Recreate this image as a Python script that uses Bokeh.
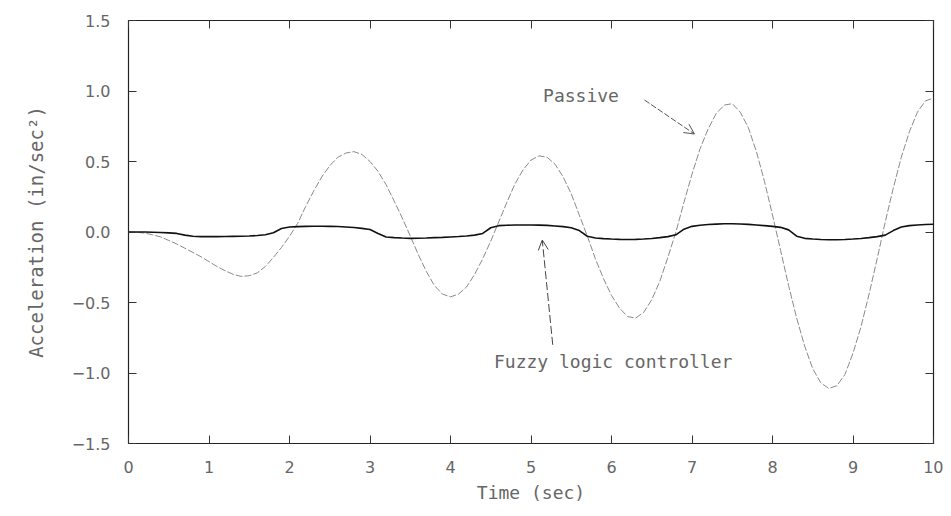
from bokeh.plotting import figure
from bokeh.models import LinearAxis, FixedTicker, Range1d, Arrow, OpenHead, Label
from bokeh.embed import file_html
from bokeh.resources import INLINE

# ---- data ----
time = [round(0.1 * i, 1) for i in range(101)]

passive = [0.00, -0.002, -0.008, -0.02, -0.035, -0.06, -0.085, -0.115, -0.145, -0.175,
           -0.21, -0.245, -0.275, -0.30, -0.315, -0.31, -0.29, -0.245, -0.18, -0.11,
           -0.03, 0.06, 0.18, 0.29, 0.39, 0.47, 0.53, 0.56, 0.57, 0.55,
           0.50, 0.43, 0.335, 0.22, 0.10, -0.028, -0.16, -0.28, -0.38, -0.44,
           -0.46, -0.44, -0.39, -0.30, -0.19, -0.065, 0.073, 0.21, 0.34, 0.44,
           0.51, 0.54, 0.53, 0.48, 0.39, 0.27, 0.12, -0.03, -0.19, -0.33,
           -0.45, -0.54, -0.60, -0.61, -0.57, -0.48, -0.35, -0.18, 0.00, 0.21,
           0.41, 0.59, 0.73, 0.84, 0.90, 0.91, 0.85, 0.74, 0.57, 0.36,
           0.12, -0.13, -0.38, -0.61, -0.81, -0.97, -1.07, -1.11, -1.09, -1.01,
           -0.86, -0.67, -0.44, -0.19, 0.07, 0.31, 0.53, 0.71, 0.85, 0.93,
           0.95]

fuzzy = [0.0, 0.0, 0.0, -0.002, -0.004, -0.006, -0.01, -0.022, -0.03, -0.033,
         -0.033, -0.033, -0.032, -0.031, -0.03, -0.028, -0.025, -0.02, -0.005, 0.025,
         0.035, 0.038, 0.04, 0.041, 0.041, 0.04, 0.039, 0.036, 0.032, 0.026,
         0.018, -0.01, -0.035, -0.04, -0.043, -0.045, -0.044, -0.043, -0.04, -0.038,
         -0.035, -0.032, -0.028, -0.022, -0.01, 0.03, 0.045, 0.048, 0.05, 0.05,
         0.05, 0.049, 0.047, 0.043, 0.038, 0.03, 0.01, -0.03, -0.042, -0.047,
         -0.05, -0.052, -0.053, -0.052, -0.05, -0.046, -0.04, -0.033, -0.02, 0.02,
         0.04, 0.048, 0.053, 0.056, 0.058, 0.058, 0.057, 0.054, 0.05, 0.045,
         0.04, 0.033, 0.015, -0.03, -0.045, -0.05, -0.053, -0.055, -0.055, -0.053,
         -0.05, -0.046, -0.04, -0.033, -0.022, 0.01, 0.035, 0.045, 0.05, 0.053,
         0.055]

x_ticks = [0, 1, 2, 3, 4, 5, 6, 7, 8, 9, 10]
x_tick_labels = ["0", "1", "2", "3", "4", "5", "6", "7", "8", "9", "10"]
y_ticks = [-1.5, -1.0, -0.5, 0.0, 0.5, 1.0, 1.5]
y_tick_labels = ["\u22121.5", "\u22121.0", "\u22120.5", "0.0", "0.5", "1.0", "1.5"]

x_title = "Time (sec)"
y_title = "Acceleration (in/sec\u00b2)"
passive_label = "Passive"
fuzzy_label = "Fuzzy logic controller"

FONT = "DejaVu Sans"
MONO = "DejaVu Sans Mono"
TXT = "#666666"

p = figure(width=943, height=508, output_backend="svg", toolbar_location=None,
           x_range=Range1d(0, 10), y_range=Range1d(-1.5, 1.5),
           min_border_left=128, min_border_right=10, min_border_top=20, min_border_bottom=65,
           x_axis_location=None, y_axis_location=None)
p.xgrid.visible = False
p.ygrid.visible = False
p.outline_line_color = "#222222"
p.outline_line_width = 1.2
p.background_fill_color = "white"
p.border_fill_color = "white"

def style_axis(ax, ticks, labels=None):
    ax.ticker = FixedTicker(ticks=ticks)
    ax.major_tick_in = 8
    ax.major_tick_out = 0
    ax.minor_tick_line_color = None
    ax.axis_line_color = None
    ax.major_tick_line_color = "#333333"
    ax.major_tick_line_width = 1
    if labels is None:
        ax.major_label_text_font_size = "0px"
        ax.major_label_text_color = None
    else:
        ax.major_label_overrides = {t: l for t, l in zip(ticks, labels)}
        ax.major_label_text_font = FONT
        ax.major_label_text_font_size = "16px"
        ax.major_label_text_color = TXT

xb = LinearAxis()
style_axis(xb, x_ticks, x_tick_labels)
xb.major_label_standoff = 17
xb.axis_label = x_title
xb.axis_label_text_font = MONO
xb.axis_label_text_font_size = "18px"
xb.axis_label_text_font_style = "normal"
xb.axis_label_text_color = TXT
xb.axis_label_standoff = 6
p.add_layout(xb, "below")

yl = LinearAxis()
style_axis(yl, y_ticks, y_tick_labels)
yl.major_label_standoff = 18
yl.axis_label = y_title
yl.axis_label_text_font = MONO
yl.axis_label_text_font_size = "19px"
yl.axis_label_text_font_style = "normal"
yl.axis_label_text_color = TXT
yl.axis_label_standoff = 22
p.add_layout(yl, "left")

xt = LinearAxis()
style_axis(xt, x_ticks)
p.add_layout(xt, "above")

yr = LinearAxis()
style_axis(yr, y_ticks)
p.add_layout(yr, "right")

p.line(time, passive, line_color="#8a8a8a", line_width=1, line_dash="7 2")
p.line(time, fuzzy, line_color="#111111", line_width=1.6)

p.add_layout(Arrow(end=OpenHead(size=10, line_color="#555555", line_width=1),
                   x_start=6.41, y_start=0.936, x_end=7.03, y_end=0.695,
                   line_color="#555555", line_width=1, line_dash="6 2"))
p.add_layout(Arrow(end=OpenHead(size=10, line_color="#444444", line_width=1),
                   x_start=5.27, y_start=-0.80, x_end=5.14, y_end=-0.057,
                   line_color="#444444", line_width=1, line_dash="8 3"))

p.add_layout(Label(x=5.15, y=0.97, text=passive_label, text_font=MONO,
                   text_font_size="18px", text_color=TXT, text_baseline="middle"))
p.add_layout(Label(x=4.54, y=-0.92, text=fuzzy_label, text_font=MONO,
                   text_font_size="18px", text_color=TXT, text_baseline="middle"))

open("out.html", "w").write(file_html(p, INLINE))
